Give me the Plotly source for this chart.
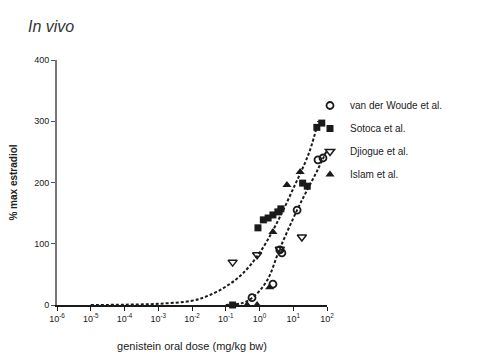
import plotly.graph_objects as go

# ---- data ----
vdw_dose = [0.6, 2.5, 4.0, 4.6, 13, 54, 76]
vdw_resp = [12, 34, 90, 85, 155, 237, 240]

sotoca_dose = [0.16, 0.9, 1.3, 1.8, 2.5, 3.5, 4.3, 19, 26, 50, 70, 120]
sotoca_resp = [0, 126, 139, 142, 147, 152, 157, 199, 194, 290, 297, 289]

djiogue_dose = [0.16, 0.85, 4.0, 18, 120]
djiogue_resp = [70, 82, 91, 111, 250]

islam_dose = [0.43, 0.85, 2.0, 2.5, 6.5, 16, 120]
islam_resp = [0, 0, 29, 119, 196, 217, 205]

fit1_dose = [1e-5, 1e-4, 1e-3, 1e-2, 0.03, 0.1, 0.3, 1, 3, 10, 30, 55]
fit1_resp = [0, 0.5, 2, 7, 15, 30, 50, 85, 130, 190, 250, 300]

fit2_dose = [0.1, 0.3, 0.65, 1.67, 4, 13, 26, 52, 100]
fit2_resp = [0, 3, 13, 40, 92, 155, 188, 220, 253]

x_tickvals = [1e-6, 1e-5, 1e-4, 1e-3, 1e-2, 1e-1, 1e0, 1e1, 1e2]
x_ticktext = ["10<sup>-6</sup>", "10<sup>-5</sup>", "10<sup>-4</sup>", "10<sup>-3</sup>",
              "10<sup>-2</sup>", "10<sup>-1</sup>", "10<sup>0</sup>", "10<sup>1</sup>",
              "10<sup>2</sup>"]
y_tickvals = [0, 100, 200, 300, 400]

FONT = "Liberation Sans, Arial, sans-serif"
INK = "#1a1a1a"
OFF = 8  # page body margin
W, H = 481 - OFF, 354 - OFF

fig = go.Figure()

dash = "3px,2px"
fig.add_trace(go.Scatter(x=fit1_dose, y=fit1_resp, mode="lines", line_shape="spline",
                         line=dict(color=INK, width=2, dash=dash), showlegend=False,
                         cliponaxis=False))
fig.add_trace(go.Scatter(x=fit2_dose, y=fit2_resp, mode="lines", line_shape="spline",
                         line=dict(color=INK, width=2, dash=dash), showlegend=False,
                         cliponaxis=False))

mk = dict(size=7)
fig.add_trace(go.Scatter(x=vdw_dose, y=vdw_resp, mode="markers", name="van der Woude et al.",
                         marker=dict(symbol="circle-open", color=INK, line=dict(width=1.8, color=INK), **mk),
                         cliponaxis=False, legendgroup="a"))
fig.add_trace(go.Scatter(x=sotoca_dose, y=sotoca_resp, mode="markers", name="Sotoca et al.",
                         marker=dict(symbol="square", color=INK, **mk),
                         cliponaxis=False, legendgroup="b"))
fig.add_trace(go.Scatter(x=djiogue_dose, y=djiogue_resp, mode="markers", name="Djiogue et al.",
                         marker=dict(symbol="triangle-down-open", color=INK, line=dict(width=1.5, color=INK), size=8),
                         cliponaxis=False, legendgroup="c"))
fig.add_trace(go.Scatter(x=islam_dose, y=islam_resp, mode="markers", name="Islam et al.",
                         marker=dict(symbol="triangle-up", color=INK, size=8),
                         cliponaxis=False, legendgroup="d"))

fig.update_layout(
    width=W, height=H,
    margin=dict(l=57 - OFF, r=W - (327 - OFF), t=60 - OFF, b=H - (305 - OFF), pad=0),
    paper_bgcolor="white", plot_bgcolor="white",
    font=dict(family=FONT, color=INK, size=9),
    title=dict(text="<i>In vivo</i>", x=(28 - OFF)/W, xanchor="left", xref="container",
               y=1 - (26 - OFF)/H, yanchor="middle", font=dict(size=16, color="#333333", family=FONT)),
    legend=dict(x=(310-57)/270, y=(305-91)/245, xanchor="left", yanchor="top",
                font=dict(size=10, family=FONT, color="#222222"), tracegroupgap=4,
                bgcolor="rgba(0,0,0,0)", itemwidth=30),
    xaxis=dict(type="log", range=[-6, 2], tickvals=x_tickvals, ticktext=x_ticktext,
               automargin=False,
               showgrid=False, zeroline=False, showline=True, linecolor=INK, linewidth=1.5,
               ticks="outside", ticklen=4, tickwidth=1.2, tickcolor=INK,
               tickfont=dict(size=9), title=dict(text="genistein oral dose (mg/kg bw)",
                                                  font=dict(size=11), standoff=20)),
    yaxis=dict(range=[0, 400], tickvals=y_tickvals, automargin=False,
               showgrid=False, zeroline=False, showline=True, linecolor="#777777", linewidth=2,
               ticks="outside", ticklen=4, tickwidth=1.2, tickcolor="#555555",
               tickfont=dict(size=9), title=dict(text="<b>% max estradiol</b>",
                                                  font=dict(size=10, color="#222222"), standoff=22)),
)

fig.write_html("out.html")
